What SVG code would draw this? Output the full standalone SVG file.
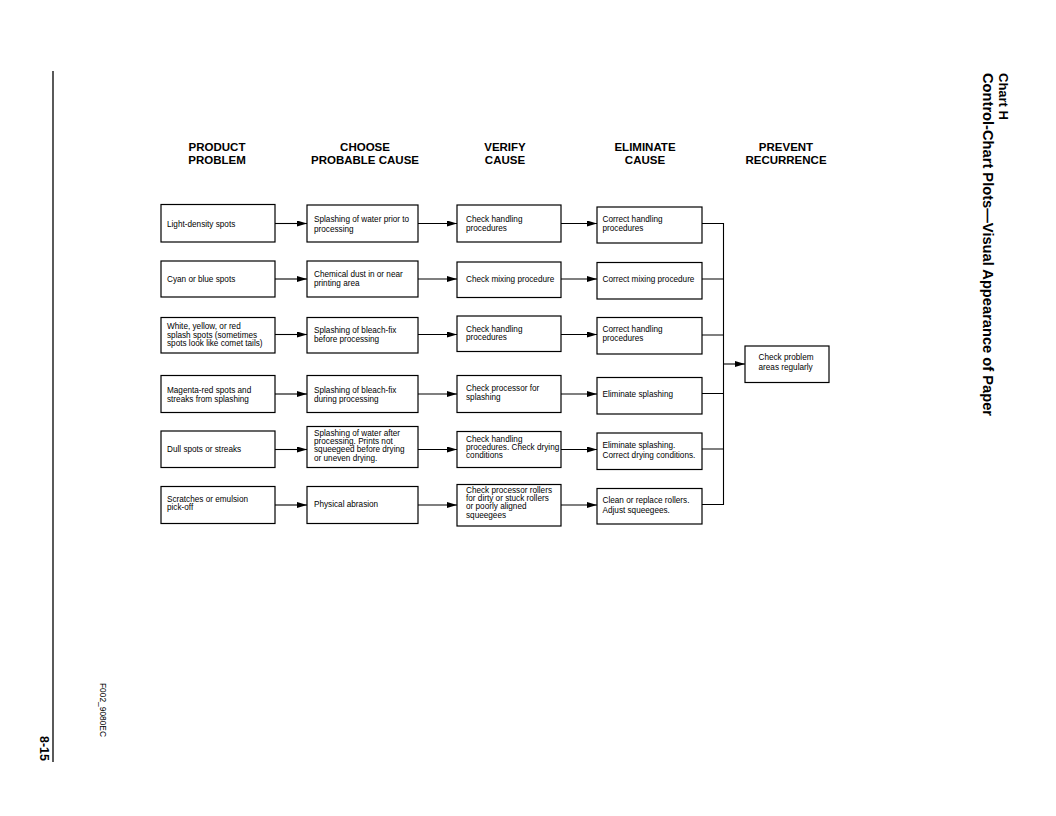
<svg xmlns="http://www.w3.org/2000/svg" width="1056" height="816" viewBox="0 0 1056 816">
<style>
.bg{fill:#fff}
.box{fill:#fff;stroke:#000;stroke-width:1.2}
.t{font-family:"Liberation Sans",Arial,sans-serif;font-size:8.2px;fill:#000}
.h{font-family:"Liberation Sans",Arial,sans-serif;font-size:11.5px;font-weight:bold;fill:#000;text-anchor:middle}
.c{fill:none;stroke:#000;stroke-width:1.1}
.ttl{font-family:"Liberation Sans",Arial,sans-serif;font-weight:bold;fill:#000}
</style>
<defs>
<marker id="ah" viewBox="0 0 10 6" refX="10" refY="3" markerWidth="10" markerHeight="6" markerUnits="userSpaceOnUse" orient="auto">
<path d="M0,0 L10,3 L0,6 z" fill="#000"/>
</marker>
</defs>
<rect class="bg" x="0" y="0" width="1056" height="816"/>

<g id="page">
<line x1="53" y1="71" x2="53" y2="762" stroke="#000" stroke-width="1.3"/>
<text class="ttl" font-size="12.5" transform="translate(39.5,736) rotate(90)">8-15</text>
<text class="t" font-size="7.5" transform="translate(100,683) rotate(90)" textLength="54" lengthAdjust="spacingAndGlyphs">F002_9080EC</text>
<text class="ttl" font-size="13" transform="translate(999,73) rotate(90)">Chart H</text>
<text class="ttl" font-size="14.5" transform="translate(983,73) rotate(90)" textLength="343" lengthAdjust="spacingAndGlyphs">Control-Chart Plots—Visual Appearance of Paper</text>
</g>

<g id="headers">
<text class="h" x="217" y="151">PRODUCT</text>
<text class="h" x="217" y="164">PROBLEM</text>
<text class="h" x="365" y="151">CHOOSE</text>
<text class="h" x="365" y="164">PROBABLE CAUSE</text>
<text class="h" x="505" y="151">VERIFY</text>
<text class="h" x="505" y="164">CAUSE</text>
<text class="h" x="645" y="151">ELIMINATE</text>
<text class="h" x="645" y="164">CAUSE</text>
<text class="h" x="786" y="151">PREVENT</text>
<text class="h" x="786" y="164">RECURRENCE</text>
</g>

<g id="connectors">
<line class="c" x1="275" y1="223.5" x2="307" y2="223.5" marker-end="url(#ah)"/>
<line class="c" x1="418" y1="223.5" x2="457" y2="223.5" marker-end="url(#ah)"/>
<line class="c" x1="561" y1="223.5" x2="597" y2="223.5" marker-end="url(#ah)"/>
<line class="c" x1="275" y1="279" x2="307" y2="279" marker-end="url(#ah)"/>
<line class="c" x1="418" y1="279" x2="457" y2="279" marker-end="url(#ah)"/>
<line class="c" x1="561" y1="279" x2="597" y2="279" marker-end="url(#ah)"/>
<line class="c" x1="275" y1="334.5" x2="307" y2="334.5" marker-end="url(#ah)"/>
<line class="c" x1="418" y1="334.5" x2="457" y2="334.5" marker-end="url(#ah)"/>
<line class="c" x1="561" y1="334.5" x2="597" y2="334.5" marker-end="url(#ah)"/>
<line class="c" x1="275" y1="394" x2="307" y2="394" marker-end="url(#ah)"/>
<line class="c" x1="418" y1="394" x2="457" y2="394" marker-end="url(#ah)"/>
<line class="c" x1="561" y1="394" x2="597" y2="394" marker-end="url(#ah)"/>
<line class="c" x1="275" y1="449.5" x2="307" y2="449.5" marker-end="url(#ah)"/>
<line class="c" x1="418" y1="449.5" x2="457" y2="449.5" marker-end="url(#ah)"/>
<line class="c" x1="561" y1="449.5" x2="597" y2="449.5" marker-end="url(#ah)"/>
<line class="c" x1="275" y1="505" x2="307" y2="505" marker-end="url(#ah)"/>
<line class="c" x1="418" y1="505" x2="457" y2="505" marker-end="url(#ah)"/>
<line class="c" x1="561" y1="505" x2="597" y2="505" marker-end="url(#ah)"/>
<path class="c" d="M702,223.5 H723.5 V504.5 H702 M702,279 H723.5 M702,335 H723.5 M702,393.5 H723.5 M702,449 H723.5"/>
<line class="c" x1="723.5" y1="364" x2="745" y2="364" marker-end="url(#ah)"/>
</g>

<g id="r1c1"><rect class="box" x="161" y="204.5" width="114" height="37.5"/><text class="t" x="167" y="226.5">Light-density spots</text></g>
<g id="r1c2"><rect class="box" x="307" y="205" width="111" height="37"/><text class="t" x="314" y="222">Splashing of water prior to</text><text class="t" x="314" y="231.5">processing</text></g>
<g id="r1c3"><rect class="box" x="457" y="205" width="104" height="37"/><text class="t" x="466" y="222">Check handling</text><text class="t" x="466" y="231">procedures</text></g>
<g id="r1c4"><rect class="box" x="597" y="207" width="105" height="36"/><text class="t" x="602.5" y="222">Correct handling</text><text class="t" x="602.5" y="231">procedures</text></g>

<g id="r2c1"><rect class="box" x="161" y="261" width="114" height="36"/><text class="t" x="167" y="282">Cyan or blue spots</text></g>
<g id="r2c2"><rect class="box" x="307" y="261" width="111" height="36"/><text class="t" x="314" y="276.5">Chemical dust in or near</text><text class="t" x="314" y="285.5">printing area</text></g>
<g id="r2c3"><rect class="box" x="457" y="262" width="104" height="35.5"/><text class="t" x="466" y="282">Check mixing procedure</text></g>
<g id="r2c4"><rect class="box" x="597" y="262.5" width="105" height="36.5"/><text class="t" x="602.5" y="282">Correct mixing procedure</text></g>

<g id="r3c1"><rect class="box" x="161" y="317.5" width="114" height="35.5"/><text class="t" x="167" y="329">White, yellow, or red</text><text class="t" x="167" y="337.5">splash spots (sometimes</text><text class="t" x="167" y="346">spots look like comet tails)</text></g>
<g id="r3c2"><rect class="box" x="307" y="317.5" width="111" height="35.5"/><text class="t" x="314" y="332.5">Splashing of bleach-fix</text><text class="t" x="314" y="341.5">before processing</text></g>
<g id="r3c3"><rect class="box" x="457" y="316" width="104" height="35.5"/><text class="t" x="466" y="331.5">Check handling</text><text class="t" x="466" y="340">procedures</text></g>
<g id="r3c4"><rect class="box" x="597" y="317.5" width="105" height="36.5"/><text class="t" x="602.5" y="332">Correct handling</text><text class="t" x="602.5" y="340.5">procedures</text></g>

<g id="r4c1"><rect class="box" x="161" y="375.5" width="114" height="37"/><text class="t" x="167" y="392.5">Magenta-red spots and</text><text class="t" x="167" y="401.5">streaks from splashing</text></g>
<g id="r4c2"><rect class="box" x="307" y="375.5" width="111" height="37"/><text class="t" x="314" y="392.5">Splashing of bleach-fix</text><text class="t" x="314" y="401.5">during processing</text></g>
<g id="r4c3"><rect class="box" x="457" y="375.5" width="104" height="37"/><text class="t" x="466" y="390.5">Check processor for</text><text class="t" x="466" y="399.5">splashing</text></g>
<g id="r4c4"><rect class="box" x="597" y="377.5" width="105" height="36.5"/><text class="t" x="602.5" y="397">Eliminate splashing</text></g>

<g id="r5c1"><rect class="box" x="161" y="431" width="114" height="36.5"/><text class="t" x="167" y="452">Dull spots or streaks</text></g>
<g id="r5c2"><rect class="box" x="307" y="426.5" width="111" height="41"/><text class="t" x="314" y="436">Splashing of water after</text><text class="t" x="314" y="444.2">processing. Prints not</text><text class="t" x="314" y="452.4">squeegeed before drying</text><text class="t" x="314" y="460.6">or uneven drying.</text></g>
<g id="r5c3"><rect class="box" x="457" y="431.5" width="104" height="36"/><text class="t" x="466" y="441.7">Check handling</text><text class="t" x="466" y="450">procedures. Check drying</text><text class="t" x="466" y="458.3">conditions</text></g>
<g id="r5c4"><rect class="box" x="597" y="433" width="105" height="36.5"/><text class="t" x="602.5" y="447.5">Eliminate splashing.</text><text class="t" x="602.5" y="457.5">Correct drying conditions.</text></g>

<g id="r6c1"><rect class="box" x="161" y="486.5" width="114" height="37"/><text class="t" x="167" y="501.5">Scratches or emulsion</text><text class="t" x="167" y="510">pick-off</text></g>
<g id="r6c2"><rect class="box" x="307" y="486.5" width="111" height="37"/><text class="t" x="314" y="507">Physical abrasion</text></g>
<g id="r6c3"><rect class="box" x="457" y="484.5" width="104" height="41.5"/><text class="t" x="466" y="492.7">Check processor rollers</text><text class="t" x="466" y="501">for dirty or stuck rollers</text><text class="t" x="466" y="509.3">or poorly aligned</text><text class="t" x="466" y="517.6">squeegees</text></g>
<g id="r6c4"><rect class="box" x="597" y="488.5" width="105" height="35.5"/><text class="t" x="602.5" y="503">Clean or replace rollers.</text><text class="t" x="602.5" y="513">Adjust squeegees.</text></g>

<g id="prevent"><rect class="box" x="745" y="346" width="84" height="36.5"/><text class="t" x="758.5" y="360">Check problem</text><text class="t" x="758.5" y="369.5">areas regularly</text></g>
</svg>
